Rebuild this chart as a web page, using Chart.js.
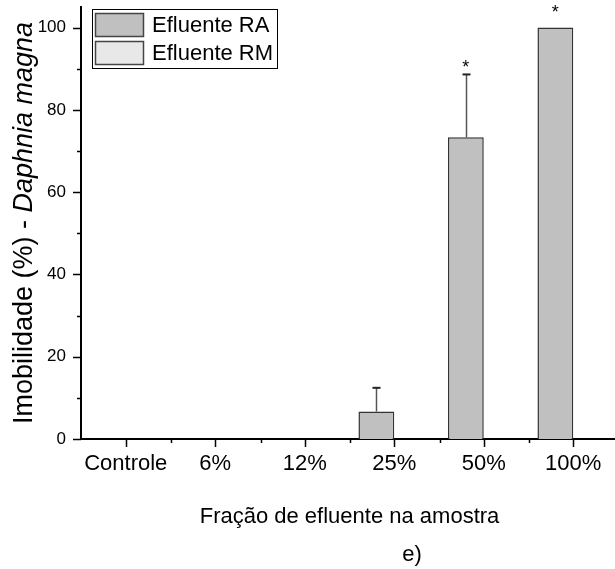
<!DOCTYPE html>
<html>
<head>
<meta charset="utf-8">
<script src="https://cdn.jsdelivr.net/npm/chart.js@4.4.1/dist/chart.umd.min.js"></script>
<style>
  html, body { margin:0; padding:0; background:#fff; overflow:hidden; }
  #wrap { width:620px; height:569px; }
</style>
</head>
<body>
<div id="wrap"><canvas id="imob" width="620" height="569"></canvas></div>
<script>
// categories and series
const fracoes = ['Controle','6%','12%','25%','50%','100%'];
const efluenteRA = [0, 0, 0, 6.67, 73.33, 100];
const efluenteRAsd = [0, 0, 0, 5.77, 15.28, 0];
const efluenteRM = [0, 0, 0, 0, 0, 0];
const signif = ['', '', '', '', '*', '*'];
const yTicks = [0, 20, 40, 60, 80, 100];

const FONT = '"Liberation Sans", Arial, sans-serif';

// outward ticks (major + minor) on both axes, since chart.js only has one tick length
const axisTicks = {
  id:'axisTicks',
  afterDraw(chart){
    const {ctx, chartArea:a, scales:{x, y}} = chart;
    ctx.save();
    ctx.strokeStyle = '#000';
    ctx.lineWidth = 1.5;
    ctx.beginPath();
    yTicks.forEach(v => {
      const py = Math.round(y.getPixelForValue(v)) + 0.5;
      ctx.moveTo(a.left, py); ctx.lineTo(a.left - 8, py);
      const pm = Math.round(y.getPixelForValue(v + 10)) + 0.5;
      if (v + 10 <= y.max) { ctx.moveTo(a.left, pm); ctx.lineTo(a.left - 4, pm); }
    });
    const step = x.getPixelForValue(1) - x.getPixelForValue(0);
    fracoes.forEach((f, i) => {
      const px = Math.round(x.getPixelForValue(i)) + 0.5;
      ctx.moveTo(px, a.bottom); ctx.lineTo(px, a.bottom + 8);
      const pb = Math.round(px - step / 2) + 0.5;
      if (i > 0) { ctx.moveTo(pb, a.bottom); ctx.lineTo(pb, a.bottom + 4); }
    });
    ctx.stroke();
    ctx.restore();
  }
};

// upper error bars and significance marks for RA
const errorBars = {
  id:'errorBars',
  afterDatasetsDraw(chart){
    const {ctx, scales:{y}} = chart;
    const meta = chart.getDatasetMeta(0);
    ctx.save();
    meta.data.forEach((bar, i) => {
      const v = efluenteRA[i], sd = efluenteRAsd[i];
      let top = y.getPixelForValue(v);
      let gap = 24;
      if (sd > 0) {
        const yEnd = y.getPixelForValue(v + sd);
        const bx = Math.round(bar.x) + 0.5;
        ctx.strokeStyle = '#555';
        ctx.lineWidth = 1.5;
        ctx.beginPath(); ctx.moveTo(bx, top); ctx.lineTo(bx, yEnd); ctx.stroke();
        ctx.strokeStyle = '#222';
        ctx.lineWidth = 2;
        ctx.beginPath(); ctx.moveTo(bx - 4, yEnd); ctx.lineTo(bx + 4, yEnd); ctx.stroke();
        top = yEnd;
        gap = 15;
      }
      if (signif[i]) {
        ctx.fillStyle = '#000';
        ctx.font = '18px ' + FONT;
        ctx.textAlign = 'center';
        ctx.textBaseline = 'top';
        ctx.fillText(signif[i], bar.x, top - gap);
      }
    });
    ctx.restore();
  }
};

// legend box, axis titles and panel letter
const extras = {
  id:'extras',
  afterDraw(chart){
    const {ctx, chartArea:a} = chart;
    ctx.save();
    // legend
    ctx.strokeStyle = '#000';
    ctx.lineWidth = 1;
    ctx.strokeRect(92.5, 9.5, 185, 59);
    chart.data.datasets.forEach((ds, i) => {
      const ry = 13 + i * 28;
      ctx.fillStyle = ds.backgroundColor;
      ctx.fillRect(95, ry, 49, 24);
      ctx.strokeStyle = '#444';
      ctx.lineWidth = 1.5;
      ctx.strokeRect(95.5, ry + 0.5, 48, 23);
      ctx.fillStyle = '#000';
      ctx.font = '22px ' + FONT;
      ctx.textAlign = 'left';
      ctx.textBaseline = 'middle';
      ctx.fillText(ds.label, 152, ry + 13);
    });
    // x title
    ctx.font = '22px ' + FONT;
    ctx.textAlign = 'center';
    ctx.textBaseline = 'alphabetic';
    ctx.fillText('Fração de efluente na amostra', (a.left + a.right) / 2, 523);
    ctx.fillText('e)', 412, 561);
    // y title with italic species name
    const parts = [
      ['Imobilidade (%) - ', '27px ' + FONT],
      ['Daphnia magna', 'italic 27px ' + FONT]
    ];
    let total = 0;
    parts.forEach(p => { ctx.font = p[1]; total += ctx.measureText(p[0]).width; });
    ctx.translate(32, (a.top + a.bottom) / 2);
    ctx.rotate(-Math.PI / 2);
    ctx.textAlign = 'left';
    let off = -total / 2;
    parts.forEach(p => { ctx.font = p[1]; ctx.fillText(p[0], off, 0); off += ctx.measureText(p[0]).width; });
    ctx.restore();
  }
};

new Chart(document.getElementById('imob'), {
  type:'bar',
  data:{
    labels: fracoes,
    datasets:[
      { label:'Efluente RA', data: efluenteRA, backgroundColor:'#c0c0c0', borderColor:'#333', borderWidth:1.5 },
      { label:'Efluente RM', data: efluenteRM, backgroundColor:'#e8e8e8', borderColor:'#444', borderWidth:1.5 }
    ]
  },
  options:{
    responsive:false,
    animation:false,
    events:[],
    layout:{ padding:{ top:7, right:2, left:0, bottom:0 } },
    datasets:{ bar:{ categoryPercentage:0.8, barPercentage:1.0 } },
    plugins:{ legend:{ display:false }, tooltip:{ enabled:false } },
    scales:{
      x:{
        grid:{ display:false, drawTicks:false },
        border:{ display:true, color:'#000', width:2 },
        ticks:{ color:'#000', font:{ family:FONT, size:22 }, padding:12, autoSkip:false, maxRotation:0 },
        afterFit(s){ s.height = 130; }
      },
      y:{
        min:0, max:105,
        grid:{ display:false, drawTicks:false },
        border:{ display:true, color:'#000', width:2 },
        ticks:{ stepSize:20, includeBounds:false, color:'#000', font:{ family:FONT, size:17 }, padding:15 },
        afterFit(s){ s.width = 81; s.paddingTop = 0; s.paddingBottom = 0; }
      }
    }
  },
  plugins:[axisTicks, errorBars, extras]
});
</script>
</body>
</html>
